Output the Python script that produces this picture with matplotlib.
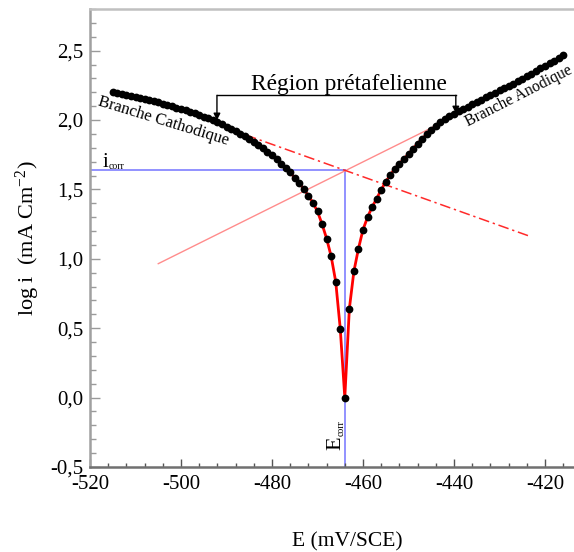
import numpy as np
import matplotlib.pyplot as plt
import matplotlib as mpl
from matplotlib.ticker import MultipleLocator, FuncFormatter

mpl.rcParams['font.family'] = 'Liberation Serif'
mpl.rcParams['mathtext.fontset'] = 'custom'
mpl.rcParams['mathtext.rm'] = 'Liberation Serif'
mpl.rcParams['mathtext.it'] = 'Liberation Serif:italic'
mpl.rcParams['mathtext.default'] = 'regular'

# 1) données (E en mV/SCE, log i)
E_cath = [-515, -514, -513, -512, -511, -510, -509, -508, -507, -506,
          -505, -504, -503, -502, -501, -500, -499, -498, -497, -496,
          -495, -494, -493, -492, -491, -490, -489, -488, -487, -486,
          -485, -484, -483, -482, -481, -480, -479, -478, -477, -476,
          -475, -474, -473, -472, -471, -470, -469, -468, -467, -466,
          -465, -464]
logi_cath = [2.200, 2.194, 2.187, 2.180, 2.173, 2.166, 2.158, 2.151, 2.143, 2.135,
             2.127, 2.118, 2.109, 2.100, 2.090, 2.080, 2.070, 2.059, 2.048, 2.036,
             2.024, 2.011, 1.998, 1.984, 1.969, 1.953, 1.937, 1.920, 1.902, 1.884,
             1.864, 1.843, 1.821, 1.798, 1.773, 1.746, 1.716, 1.684, 1.655, 1.622,
             1.584, 1.545, 1.502, 1.455, 1.404, 1.341, 1.250, 1.146, 1.018, 0.836,
             0.497, 0.000]

E_anod = [-463, -462, -461, -460, -459, -458, -457, -456, -455, -454,
          -453, -452, -451, -450, -449, -448, -447, -446, -445, -444,
          -443, -442, -441, -440, -439, -438, -437, -436, -435, -434,
          -433, -432, -431, -430, -429, -428, -427, -426, -425, -424,
          -423, -422, -421, -420, -419, -418, -417, -416]
logi_anod = [0.641, 0.910, 1.073, 1.210, 1.300, 1.373, 1.434, 1.497, 1.555, 1.605,
             1.650, 1.686, 1.720, 1.756, 1.794, 1.830, 1.866, 1.898, 1.929, 1.959,
             1.988, 2.008, 2.027, 2.046, 2.064, 2.081, 2.097, 2.114, 2.130, 2.147,
             2.163, 2.180, 2.196, 2.213, 2.229, 2.246, 2.262, 2.280, 2.298, 2.316,
             2.335, 2.353, 2.372, 2.390, 2.409, 2.428, 2.447, 2.466]

# droites de Tafel (extrémités)
tafel_cath_E = [-490, -423.3]
tafel_cath_logi = [1.942, 1.162]
tafel_anod_E = [-505, -437.2]
tafel_anod_logi = [0.965, 2.07]

E_corr = -464
logi_corr = 1.638

# région prétafelienne
pre_E = [-492.1, -439.6]
pre_tip = [1.998, 2.048]
pre_top = 2.178

E = E_cath + E_anod
logi = logi_cath + logi_anod

# 2) figure
fig = plt.figure(figsize=(5.74, 5.52), dpi=100)
ax = fig.add_axes([0.1568, 0.154, 0.8878, 0.8297])

ax.plot([-520, E_corr], [logi_corr, logi_corr], color='#7f7fff', lw=1.2, zorder=1)
ax.plot([E_corr, E_corr], [-0.5, logi_corr], color='#7f7fff', lw=1.2, zorder=1)

ax.plot(tafel_anod_E, tafel_anod_logi, color='#ff8c8c', lw=1.0, zorder=2)
ax.plot(tafel_cath_E, tafel_cath_logi, color='#ff2a2a', lw=1.1,
        dashes=(7, 2.5, 1.5, 2.5), zorder=2)

ax.plot(E, logi, color='#ff0000', lw=2.0, zorder=3)
ax.plot(E, logi, 'o', color='black', ms=5.6, mew=0, zorder=4)

# crochet "Région prétafelienne"
ax.plot(pre_E, [pre_top, pre_top], color='black', lw=1.0)
for x, tip in zip(pre_E, pre_tip):
    ax.annotate('', xy=(x, tip), xytext=(x, pre_top),
                arrowprops=dict(arrowstyle='-|>', color='black', lw=1.0,
                                shrinkA=0, shrinkB=0, mutation_scale=10))
ax.text(-463.0, 2.214, 'Région prétafelienne', fontsize=16.8,
        ha='center', va='baseline')

ax.text(-503.8, 1.99, 'Branche Cathodique', fontsize=12, rotation=-17,
        ha='center', va='center', rotation_mode='anchor')
ax.text(-425.8, 2.175, 'Branche Anodique', fontsize=11.3, rotation=27,
        ha='center', va='center', rotation_mode='anchor')

ax.text(-517.3, 1.661, 'i', fontsize=15, ha='left', va='baseline')
ax.text(-515.8, 1.645, 'corr', fontsize=7, ha='left', va='baseline')
ax.text(-465.9, -0.33, 'E', fontsize=16, rotation=90, ha='center', va='center')
ax.text(-464.8, -0.22, 'corr', fontsize=7, rotation=90, ha='center', va='center')

ax.set_xlim(-520, -408)
ax.set_ylim(-0.5, 2.8)

ax.xaxis.set_major_locator(MultipleLocator(20))
ax.xaxis.set_minor_locator(MultipleLocator(4))
ax.yaxis.set_major_locator(MultipleLocator(0.5))
ax.yaxis.set_minor_locator(MultipleLocator(0.1))
ax.yaxis.set_major_formatter(FuncFormatter(lambda v, p: f'{v:.1f}'.replace('.', ',')))
ax.xaxis.set_major_formatter(FuncFormatter(lambda v, p: f'{v:.0f}'))

ax.tick_params(which='both', direction='in', labelsize=15, top=False, right=False)
ax.tick_params(axis='y', which='major', length=7, width=1.0, color='#9a9a9a', pad=5)
ax.tick_params(axis='y', which='minor', length=4.3, width=1.0, color='#9a9a9a')
ax.tick_params(axis='x', which='major', length=6, width=1.0, color='#555555', pad=6)
ax.tick_params(axis='x', which='minor', length=3, width=1.0, color='#555555')

ax.spines['left'].set_color('#a0a0a0')
ax.spines['left'].set_linewidth(1.8)
ax.spines['bottom'].set_color('#707070')
ax.spines['bottom'].set_linewidth(1.8)
ax.spines['top'].set_color('#c0c0c0')
ax.spines['top'].set_linewidth(1.8)
ax.spines['right'].set_visible(False)

ax.set_ylabel('log i  (mA Cm$^{-2}$)', fontsize=16)
ax.yaxis.set_label_coords(-0.094, 0.5)
ax.set_xlabel('E (mV/SCE)', fontsize=15.5)
ax.xaxis.set_label_coords((347 - 90) / 509.6, -0.142)

fig.savefig('out.png', dpi=100)
